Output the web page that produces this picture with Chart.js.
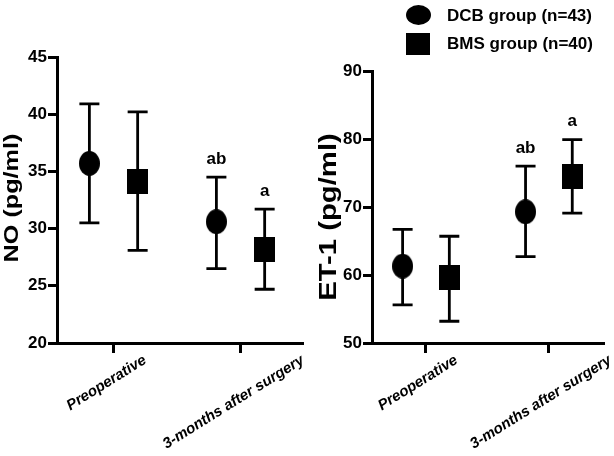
<!DOCTYPE html>
<html>
<head>
<meta charset="utf-8">
<script src="https://cdn.jsdelivr.net/npm/chart.js@4.4.1/dist/chart.umd.min.js"></script>
<style>
html, body { margin: 0; padding: 0; background: #fff; }
#wrap { position: relative; width: 614px; height: 456px; }
.panel { position: absolute; top: 0; width: 307px; height: 456px; }
</style>
</head>
<body>
<div id="wrap">
    <div class="panel" style="left:0"><canvas id="chart_no" width="307" height="456"></canvas></div>
    <div class="panel" style="left:307px"><canvas id="chart_et" width="307" height="456"></canvas></div>
</div>
<script>
const categories = ['Preoperative', '3-months after surgery'];
const group_names = ['DCB group (n=43)', 'BMS group (n=40)'];

// NO (pg/ml), mean with lower / upper end of the error bar
const no_dcb_mean = [35.7, 30.6];
const no_dcb_low = [30.5, 26.5];
const no_dcb_high = [40.9, 34.5];
const no_bms_mean = [34.1, 28.2];
const no_bms_low = [28.1, 24.7];
const no_bms_high = [40.2, 31.7];
const no_ticks = [20, 25, 30, 35, 40, 45];

// ET-1 (pg/ml)
const et_dcb_mean = [61.3, 69.3];
const et_dcb_low = [55.6, 62.7];
const et_dcb_high = [66.7, 76.0];
const et_bms_mean = [59.6, 74.5];
const et_bms_low = [53.2, 69.1];
const et_bms_high = [65.7, 79.9];
const et_ticks = [50, 60, 70, 80, 90];

// significance letters above the bars
const dcb_letters = ['', 'ab'];
const bms_letters = ['', 'a'];

const FONT = '"Liberation Sans", Arial, sans-serif';
const group_offset = [-0.19, 0.19];

function makeMarker(shape, w, h){
    const c = document.createElement('canvas');
    c.width = w;
    c.height = h;
    const g = c.getContext('2d');
    g.fillStyle = '#000';
    if(shape == 'circle'){
        g.beginPath();
        g.ellipse(w / 2, h / 2, w / 2, h / 2, 0, 0, Math.PI * 2);
        g.fill();
    } else {
        g.fillRect(0, 0, w, h);
    }
    return c;
}
const circle_marker = makeMarker('circle', 21, 25);
const square_marker = makeMarker('rect', 21, 25);

function buildPoints(group, mean, low, high, letters){
    return mean.map((v, i) => ({
        x: i + 1 + group_offset[group],
        y: v,
        low: low[i],
        high: high[i],
        letter: letters[i]
    }));
}

const errorBars = {
    id: 'errorBars',
    beforeDatasetsDraw: (chart) => {
        const {ctx, scales} = chart;
        ctx.save();
        ctx.strokeStyle = '#000';
        ctx.fillStyle = '#000';
        ctx.lineWidth = 2.8;
        ctx.font = 'bold 17px ' + FONT;
        ctx.textAlign = 'center';
        ctx.textBaseline = 'middle';
        chart.data.datasets.forEach(ds => {
            ds.data.forEach(p => {
                const px = scales.x.getPixelForValue(p.x);
                const top = scales.y.getPixelForValue(p.high);
                const bot = scales.y.getPixelForValue(p.low);
                ctx.beginPath();
                ctx.moveTo(px, top);
                ctx.lineTo(px, bot);
                ctx.moveTo(px - 10, top);
                ctx.lineTo(px + 10, top);
                ctx.moveTo(px - 10, bot);
                ctx.lineTo(px + 10, bot);
                ctx.stroke();
                if(p.letter){
                    ctx.fillText(p.letter, px, top - 18);
                }
            });
        });
        ctx.restore();
    }
};

// rotated category labels, centred a little left of each tick
const xLabels = {
    id: 'xLabels',
    afterDraw: (chart, args, opts) => {
        const {ctx} = chart;
        const x = chart.scales.x;
        const angle = 32 * Math.PI / 180;
        ctx.save();
        ctx.font = 'italic bold 15px ' + FONT;
        ctx.fillStyle = '#000';
        ctx.textAlign = 'center';
        ctx.textBaseline = 'middle';
        x.ticks.forEach(t => {
            const label = categories[t.value - 1];
            const w = ctx.measureText(label).width;
            ctx.save();
            ctx.translate(x.getPixelForValue(t.value) + opts.shift, x.top + 16 + w / 2 * Math.sin(angle));
            ctx.rotate(-angle);
            ctx.fillText(label, 0, 0);
            ctx.restore();
        });
        ctx.restore();
    }
};

// y title, stretched along its length like the reference
const yTitle = {
    id: 'yTitle',
    afterDraw: (chart, args, opts) => {
        const {ctx} = chart;
        ctx.save();
        ctx.font = 'bold ' + opts.size + 'px ' + FONT;
        ctx.fillStyle = '#000';
        ctx.textAlign = 'center';
        ctx.textBaseline = 'middle';
        ctx.translate(opts.x, opts.y);
        ctx.rotate(-Math.PI / 2);
        ctx.scale(opts.stretch, 1);
        ctx.fillText(opts.text, 0, 0);
        ctx.restore();
    }
};

const groupLegend = {
    id: 'groupLegend',
    afterDraw: (chart) => {
        const {ctx} = chart;
        ctx.save();
        ctx.fillStyle = '#000';
        ctx.beginPath();
        ctx.ellipse(111.5, 15, 12.5, 10, 0, 0, Math.PI * 2);
        ctx.fill();
        ctx.fillRect(99, 33, 24, 22);
        ctx.font = 'bold 17px ' + FONT;
        ctx.textAlign = 'left';
        ctx.textBaseline = 'middle';
        ctx.fillText(group_names[0], 140, 16);
        ctx.fillText(group_names[1], 140, 44);
        ctx.restore();
    }
};

function makeChart(canvas_id, setup){
    return new Chart(document.getElementById(canvas_id), {
        type: 'scatter',
        data: {
            datasets: [{
                label: group_names[0],
                data: buildPoints(0, setup.dcb_mean, setup.dcb_low, setup.dcb_high, dcb_letters),
                pointStyle: circle_marker,
                backgroundColor: '#000',
                borderColor: '#000'
            }, {
                label: group_names[1],
                data: buildPoints(1, setup.bms_mean, setup.bms_low, setup.bms_high, bms_letters),
                pointStyle: square_marker,
                backgroundColor: '#000',
                borderColor: '#000'
            }]
        },
        options: {
            responsive: false,
            animation: false,
            layout: {
                padding: setup.padding
            },
            plugins: {
                legend: { display: false },
                tooltip: { enabled: false },
                yTitle: setup.title,
                xLabels: { shift: setup.label_shift }
            },
            scales: {
                x: {
                    type: 'linear',
                    min: setup.x_min,
                    max: setup.x_max,
                    afterBuildTicks: (scale) => {
                        scale.ticks = categories.map((c, i) => ({value: i + 1}));
                    },
                    afterFit: (scale) => {
                        scale.height = 113;
                    },
                    grid: {
                        drawOnChartArea: false,
                        color: '#000',
                        lineWidth: 3,
                        tickLength: 10
                    },
                    border: { color: '#000', width: 3 },
                    ticks: { display: false }
                },
                y: {
                    min: setup.ticks[0],
                    max: setup.ticks[setup.ticks.length - 1],
                    afterBuildTicks: (scale) => {
                        scale.ticks = setup.ticks.map(v => ({value: v}));
                    },
                    afterFit: (scale) => {
                        scale.width = setup.y_width;
                    },
                    grid: {
                        drawOnChartArea: false,
                        color: '#000',
                        lineWidth: 3,
                        tickLength: 9
                    },
                    border: { color: '#000', width: 3 },
                    ticks: {
                        color: '#000',
                        padding: 1,
                        font: { family: FONT, size: 17, weight: 'bold' }
                    }
                }
            }
        },
        plugins: setup.extra_plugins
    });
}

makeChart('chart_no', {
    dcb_mean: no_dcb_mean, dcb_low: no_dcb_low, dcb_high: no_dcb_high,
    bms_mean: no_bms_mean, bms_low: no_bms_low, bms_high: no_bms_high,
    ticks: no_ticks,
    title: {text: 'NO (pg/ml)', size: 21, stretch: 1.2, x: 12, y: 198},
    y_width: 57,
    x_min: 0.555,
    x_max: 2.484,
    label_shift: -7,
    padding: {top: 57, right: 3, left: 0, bottom: 0},
    extra_plugins: [errorBars, xLabels, yTitle]
});

makeChart('chart_et', {
    dcb_mean: et_dcb_mean, dcb_low: et_dcb_low, dcb_high: et_dcb_high,
    bms_mean: et_bms_mean, bms_low: et_bms_low, bms_high: et_bms_high,
    ticks: et_ticks,
    title: {text: 'ET-1 (pg/ml)', size: 24, stretch: 1.22, x: 22, y: 217},
    y_width: 65,
    x_min: 0.561,
    x_max: 2.44,
    label_shift: -8,
    padding: {top: 71, right: 11, left: 0, bottom: 0},
    extra_plugins: [errorBars, xLabels, yTitle, groupLegend]
});
</script>
</body>
</html>
